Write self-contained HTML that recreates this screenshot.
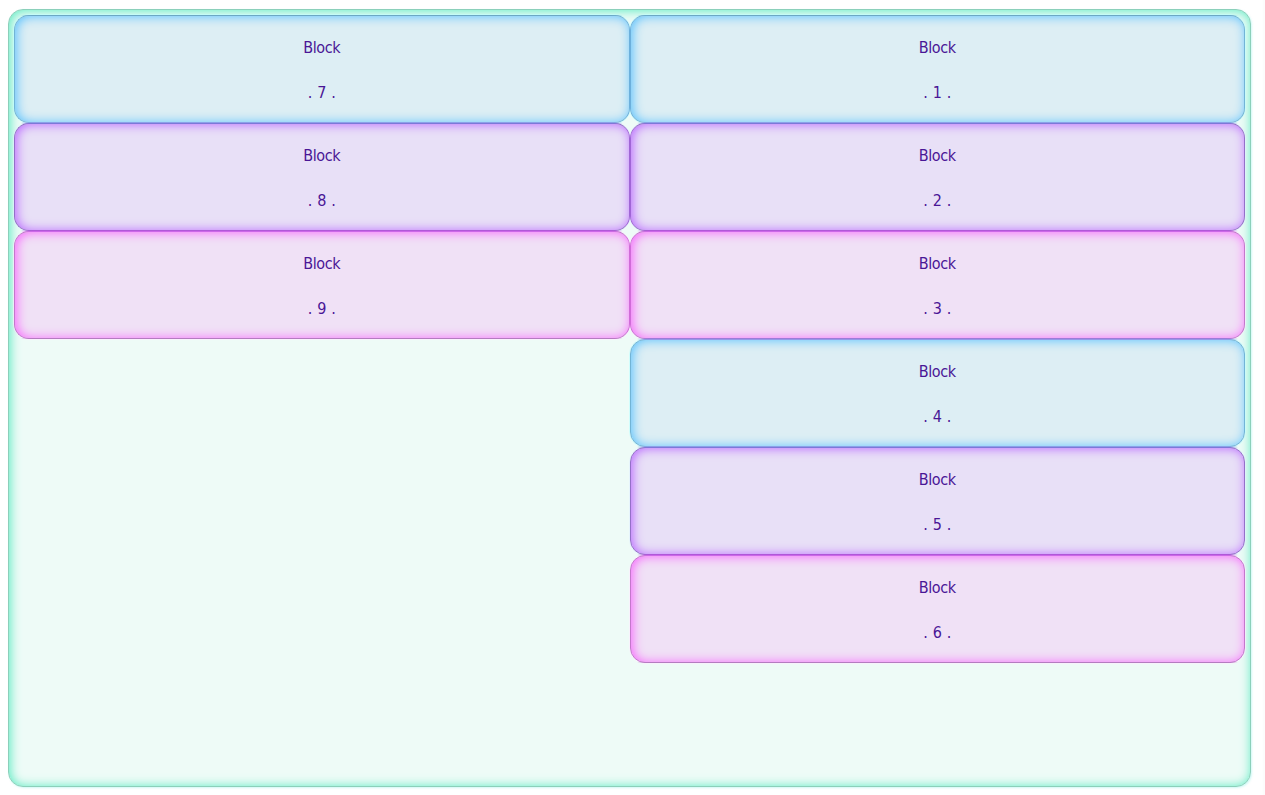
<!DOCTYPE html>
<html lang="en">
<head>
<meta charset="utf-8">
<title>Blocks</title>
<style>
html,body{margin:0;padding:0;background:#fff;}
body{width:1265px;height:795px;overflow:hidden;position:relative;
  font-family:"DejaVu Sans Condensed","Liberation Sans",sans-serif;font-size:16px;color:#4a1696;}
.wrap{position:absolute;left:8px;top:9px;width:1243px;height:778px;box-sizing:border-box;
  border:1px solid #8bd0ba;border-radius:15px;background:#eefbf7;
  box-shadow:1px 1px 2px rgba(70,233,220,.25),inset 1px .5px 11px #52eabe;padding:5px;}
.col{position:absolute;top:5px;width:615.5px;}
.col.l{left:5px;}
.col.r{left:620.5px;}
.b{height:108px;box-sizing:border-box;border:1px solid;border-radius:15px;text-align:center;position:relative;}
.b p{margin:0;position:absolute;left:0;right:0;line-height:20px;letter-spacing:-0.35px;}
.b p.t{top:22px;}
.b p.n{top:67px;letter-spacing:0;word-spacing:.25px;}
.wrap{isolation:isolate;}
.b{--t:transparent;--m:transparent;}
.b::before{content:"";position:absolute;left:-2px;top:-2px;right:-2px;bottom:-2px;border:1px solid;border-radius:16px;z-index:-1;}
.b::after{content:"";position:absolute;left:6px;right:6px;top:-1px;bottom:-1px;pointer-events:none;
  background:linear-gradient(90deg,transparent,var(--t) 12px,var(--t) calc(100% - 12px),transparent) top/100% 1px no-repeat,
             linear-gradient(90deg,transparent,var(--m) 12px,var(--m) calc(100% - 12px),transparent) bottom/100% 1px no-repeat;}
.b.c1{background:#ddeef4;border-color:#72b4d6;box-shadow:inset 1.5px .5px 10.5px #58c1fe;--t:#9498e8;--m:#8ca0e8;}
.b.c2{background:#e8e0f7;border-color:#9470c8;box-shadow:inset 1.5px .5px 10.5px #b864ff;--t:#7c78d8;--m:#b058d8;}
.b.c3{background:#f0e1f6;border-color:#c478cc;box-shadow:inset 1.5px .5px 10.5px #f763fd;--t:#cc68e8;--m:#9c7cd8;}
.b.c1::before{border-color:rgba(190,255,255,.6);}
.b.c2::before{border-color:rgba(225,240,255,.6);}
.b.c3::before{border-color:rgba(255,236,255,.6);}
.b.first{--t:#6ca8c4;}
.b.last{--m:#b47cc0;}
.l .c1{border-right-color:#6cb0dc;} .l .c2{border-right-color:#a066d6;} .l .c3{border-right-color:#d06cd8;}
.r .j.c1{border-left-color:#6cb0dc;} .r .j.c2{border-left-color:#a066d6;} .r .j.c3{border-left-color:#d06cd8;}
.edge{position:absolute;right:0;top:0;width:2px;height:795px;background:#fcfcfc;box-shadow:-1px 0 0 #fefefe;}
</style>
</head>
<body>
<div class="wrap">
  <div class="col l">
    <div class="b c1 first"><p class="t">Block</p><p class="n">. 7 .</p></div>
    <div class="b c2"><p class="t">Block</p><p class="n">. 8 .</p></div>
    <div class="b c3 last"><p class="t">Block</p><p class="n">. 9 .</p></div>
  </div>
  <div class="col r">
    <div class="b c1 first j"><p class="t">Block</p><p class="n">. 1 .</p></div>
    <div class="b c2 j"><p class="t">Block</p><p class="n">. 2 .</p></div>
    <div class="b c3 j"><p class="t">Block</p><p class="n">. 3 .</p></div>
    <div class="b c1"><p class="t">Block</p><p class="n">. 4 .</p></div>
    <div class="b c2"><p class="t">Block</p><p class="n">. 5 .</p></div>
    <div class="b c3 last"><p class="t">Block</p><p class="n">. 6 .</p></div>
  </div>
</div>
<div class="edge"></div>
</body>
</html>
